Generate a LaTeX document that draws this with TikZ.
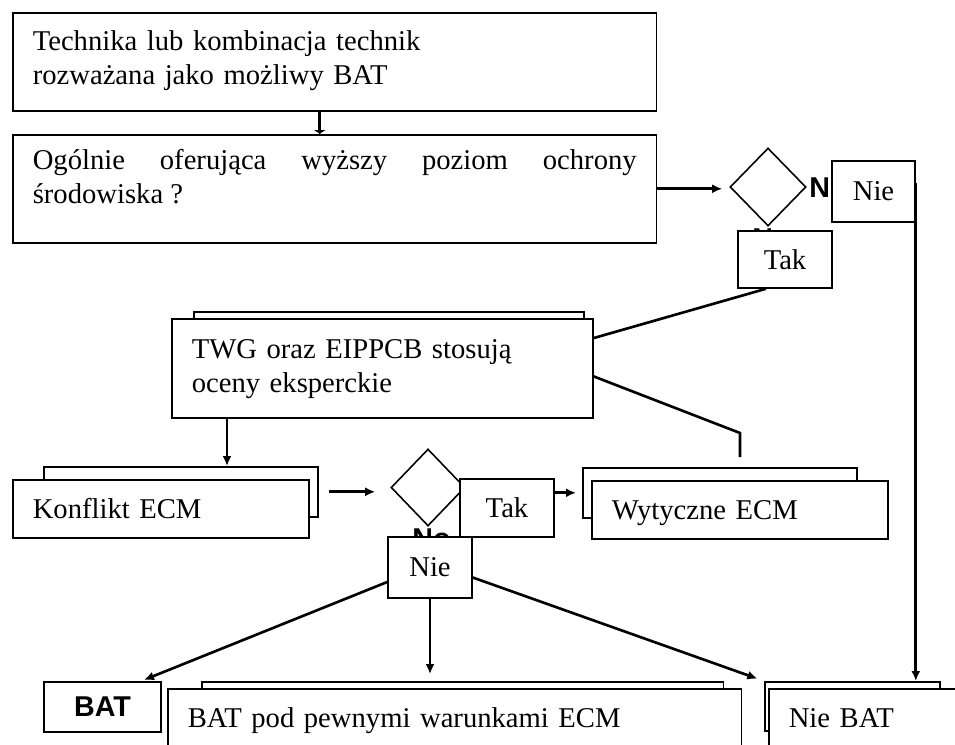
\documentclass[tikz,border=0pt]{standalone}
\usepackage{fontspec}
\setmainfont{Liberation Serif}
\newfontfamily\batfont{Liberation Sans}
\usetikzlibrary{shapes.geometric,arrows.meta,calc}

\tikzset{
  box/.style={draw, fill=white, line width=0.9pt, anchor=north west, inner ysep=0pt, inner xsep=0.4cm,
    align=left, font=\fontsize{16.3}{19.2}\selectfont},
  backbox/.style={draw, fill=white, line width=0.9pt, anchor=north west, inner sep=0pt},
  smallbox/.style={draw, fill=white, line width=0.9pt, inner sep=0pt, font=\fontsize{16.3}{19.2}\selectfont},
  decision/.style={diamond, draw, line width=0.9pt, inner sep=0pt},
  nolbl/.style={anchor=base west, inner sep=0pt, font=\batfont\bfseries\fontsize{16.3}{19.2}\selectfont},
  link/.style={line width=1.5pt},
  arr/.style={link, -{Latex[length=2mm,width=1.8mm]}}
}

\begin{document}
\begin{tikzpicture}[x=0.02cm,y=-0.02cm]
\useasboundingbox (0,0) rectangle (955,744);
\node[box,text width=12.08cm,text height=0.76cm,text depth=1.2cm] (tech) at (12,12) {Technika lub kombinacja technik\\rozważana jako możliwy BAT};
\node[box,text width=12.08cm,text height=0.7cm,text depth=1.46cm,align=justify] (cnt) at (12,134) {Ogólnie oferująca wyższy poziom ochrony\linebreak środowiska ?};
\node[backbox,minimum width=7.8cm,minimum height=1.6cm] (twgb) at (193,311) {};
\node[box,text width=7.62cm,text height=0.8cm,text depth=1.18cm] (twg) at (171,318) {TWG oraz EIPPCB stosują\\oceny eksperckie};
\node[backbox,minimum width=5.48cm,minimum height=1cm] (konb) at (43,466) {};
\node[box,text width=5.12cm,text height=0.78cm,text depth=0.38cm] (kon) at (12,479) {Konflikt ECM};
\node[backbox,minimum width=5.48cm,minimum height=1cm] (wytb) at (582,467) {};
\node[box,text width=5.12cm,text height=0.78cm,text depth=0.38cm] (wyt) at (591,480) {Wytyczne ECM};
\node[backbox,minimum width=10.44cm,minimum height=1.5cm] (bpb) at (201,681) {};
\node[box,text width=10.68cm,text height=0.78cm,text depth=1cm] (bp) at (167,688) {BAT pod pewnymi warunkami ECM};
\node[backbox,minimum width=3.5cm,minimum height=0.98cm] (nbb) at (764,681) {};
\node[box,text width=3.2cm,text height=0.78cm,text depth=1cm] (nb) at (768,688) {Nie BAT};
\node[backbox,line width=1.2pt,minimum width=2.34cm,minimum height=1cm,font=\batfont\bfseries\fontsize{16.3}{19.2}\selectfont] (bat) at (43,681) {BAT};
\node[decision,minimum width=1.52cm,minimum height=1.56cm] (dia1) at (768,187) {};
\node[decision,minimum width=1.48cm,minimum height=1.54cm] (dia2) at (428,487.5) {};
\node[nolbl] (no1) at (809,197) {No};
\node[nolbl] (no2) at (752,248) {No};
\node[nolbl] (no3) at (412,548) {No};
\node[smallbox,minimum width=1.66cm,minimum height=1.22cm] (nie1) at (873.5,191.5) {Nie};
\node[smallbox,minimum width=1.88cm,minimum height=1.14cm] (tak1) at (785,259.5) {Tak};
\node[smallbox,minimum width=1.88cm,minimum height=1.16cm] (tak2) at (507,508) {Tak};
\node[smallbox,minimum width=1.68cm,minimum height=1.22cm] (nie2) at (430,567.5) {Nie};
\coordinate (wytin) at (740,457);

\draw[link,-{Latex[length=0.8mm,width=2.6mm]}] ([xshift=-0.3cm]tech.south) -- ([xshift=-0.3cm]cnt.north);
\draw[arr,shorten >=0.14cm] (cnt.east) -- (cnt.east -| dia1.west);
\draw[link] ($(tak1.south west)!0.3!(tak1.south east)$) -- ($(twg.north east)!0.2!(twg.south east)$);
\draw[link] ($(twg.north east)!0.58!(twg.south east)$) -- ($(wytin)+(0,-24)$) -- (wytin);
\draw[arr] ([xshift=1.12cm]twg.south west) coordinate (twgout) -- (twgout |- konb.north);
\draw[arr,shorten <=0.2cm,shorten >=0.3cm] (konb.east) -- (konb.east -| dia2.west);
\draw[arr,shorten >=0.12cm] (tak2.east |- wytb.west) -- (wytb.west);
\draw[arr,shorten >=0.06cm] ([yshift=-0.29cm]nie2.west) -- ($(bat.north)!0.65!(bat.north east)$);
\draw[arr,shorten >=0.14cm] (nie2.south) -- (nie2.south |- bpb.north);
\draw[arr,shorten >=0.14cm] ([yshift=-0.2cm]nie2.east) -- (nbb.north west);
\draw[arr] ([yshift=-0.46cm]nie1.north east) coordinate (nieout) -- (nieout |- nbb.north);
\end{tikzpicture}
\end{document}
